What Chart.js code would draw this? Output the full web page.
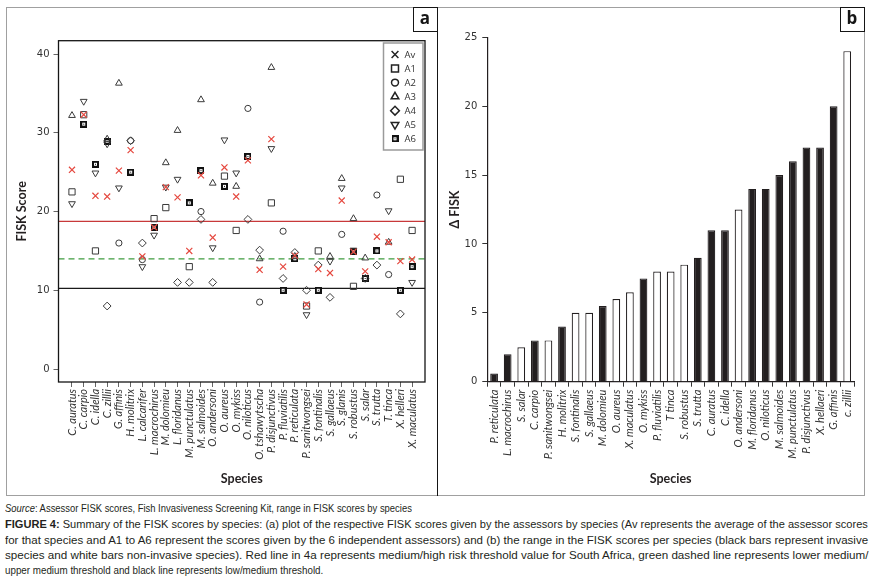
<!DOCTYPE html>
<html>
<head>
<meta charset="utf-8">
<script src="https://cdn.jsdelivr.net/npm/chart.js@4.4.1/dist/chart.umd.min.js"></script>
<style>
  body { margin: 0; background: #fff; }
  #page { position: relative; width: 873px; height: 582px; overflow: hidden; }
  #frame { position: absolute; left: 6px; top: 7px; width: 859px; height: 489px; border: 1.5px solid #a0a0a0; box-sizing: border-box; }
  #split { position: absolute; left: 436.5px; top: 7px; width: 1.6px; height: 489px; background: #151515; }
  .tag { position: absolute; top: 7px; width: 25px; height: 25px; border: 1.5px solid #151515; box-sizing: border-box; background: #fff;
         font: bold 17px 'Open Sans', sans-serif; line-height: 19px; text-align: center; color: #151515; }
  canvas { position: absolute; top: 0; }
  .cap { position: absolute; left: 5px; white-space: nowrap; transform-origin: 0 0; line-height: 13px;
         font-family: 'Liberation Sans Narrow', 'Liberation Sans', sans-serif; font-size: 11.5px; color: #231f20; }
</style>
</head>
<body>
<div id="page">
  <div id="frame"></div>
  <div id="split"></div>
  <canvas id="scoreChart" width="437" height="495" style="left:0"></canvas>
  <canvas id="rangeChart" width="435" height="495" style="left:438px"></canvas>
  <div class="tag" style="left:412.5px">a</div>
  <div class="tag" style="left:839.5px">b</div>

  <div class="cap fit" data-w="407" style="top:502px;font-size:10.5px"><i>Source</i>: Assessor FISK scores, Fish Invasiveness Screening Kit, range in FISK scores by species</div>
  <div class="cap fit" data-w="863" style="top:517.5px"><b>FIGURE 4:</b> Summary of the FISK scores by species: (a) plot of the respective FISK scores given by the assessors by species (Av represents the average of the assessor scores</div>
  <div class="cap fit" data-w="863" style="top:533.5px">for that species and A1 to A6 represent the scores given by the 6 independent assessors) and (b) the range in the FISK scores per species (black bars represent invasive</div>
  <div class="cap fit" data-w="863" style="top:549px">species and white bars non-invasive species). Red line in 4a represents medium/high risk threshold value for South Africa, green dashed line represents lower medium/</div>
  <div class="cap fit" data-w="318" style="top:564px">upper medium threshold and black line represents low/medium threshold.</div>
</div>

<script>
// ---- data (a): FISK score by assessor ----
const species = ['C. auratus', 'C. carpio', 'C. idella', 'C. zillii', 'G. affinis', 'H. molitrix', 'L. calcarifer',
  'L. macrochirus', 'M. dolomieu', 'L. floridanus', 'M. punctulatus', 'M. salmoides', 'O. andersoni', 'O. aureus',
  'O. mykiss', 'O. niloticus', 'O. tshawytscha', 'P. disjunctivus', 'P. fluviatilis', 'P. reticulata',
  'P. sanitwongsei', 'S. fontinalis', 'S. gallaeus', 'S. glanis', 'S. robustus', 'S. salar', 'S. trutta',
  'T. tinca', 'X. helleri', 'X. maculatus']

const avScores = [25.3, 32.3, 22.0, 21.9, 25.2, 27.8, 14.3, 18.0, 23.1, 21.8, 15.0, 24.6, 16.7, 25.6, 21.9,
  26.5, 12.6, 29.2, 13.0, 14.4, 8.2, 12.7, 12.2, 21.4, 14.9, 12.4, 16.8, 16.1, 13.7, 13.9]
const a1Scores = [22.5, 32.3, 15.0, null, null, null, null, 19.1, 20.5, null, 13.0, null, null, 24.5, 17.6,
  null, null, 21.1, null, null, 8.0, 15.0, null, null, 10.5, null, null, null, 24.1, 17.6]
const a2Scores = [null, null, null, null, 16.0, 29.0, 13.9, null, null, null, null, 20.0, null, null, null,
  33.1, 8.5, null, 17.5, null, null, null, null, 17.1, null, null, 22.1, 12.0, null, null]
const a3Scores = [32.2, null, null, 29.2, 36.3, null, null, null, 26.2, 30.3, null, 34.2, 23.6, null, 23.2,
  null, 14.0, 38.3, null, 14.3, null, null, 14.3, 24.2, 19.1, 14.1, null, 16.1, null, null]
const a4Scores = [null, null, null, 8.0, null, 29.0, 16.0, null, null, 11.0, 11.0, 19.0, 11.0, null, null,
  19.0, 15.1, null, 11.5, 14.8, 10.0, 13.2, 9.1, null, null, 11.5, 13.2, null, 7.0, null]
const a5Scores = [21.0, 34.0, 24.9, 28.6, 23.0, null, 13.0, 17.0, 23.1, 24.1, null, null, 15.4, 29.1, 24.9,
  null, null, 28.0, null, null, 6.9, null, 13.7, 23.0, 15.1, null, null, 20.1, null, 11.0]
const a6Scores = [null, 31.1, 26.0, 28.9, null, 25.0, null, 18.0, null, null, 21.1, 25.2, null, 23.2, null,
  27.0, null, null, 10.0, 14.0, null, 10.0, null, null, 14.9, 11.5, 15.0, null, 10.0, 13.0]

const highRisk = 18.75   // red
const midSplit = 14      // green dashed
const lowMedium = 10.25  // black

// ---- data (b): range in FISK scores per species ----
const rangeSpecies = ['P. reticulata', 'L. macrochirus', 'S. salar', 'C. carpio', 'P. sanitwongsei', 'H. molitrix',
  'S. fontinalis', 'S. gallaeus', 'M. dolomieu', 'O. aureus', 'X. maculatus', 'O. mykiss', 'P. fluviatilis',
  'T tinca', 'S. robustus', 'S. trutta', 'C. auratus', 'C. idella', 'O. andersoni', 'M. floridanus',
  'O. niloticus', 'M. salmoides', 'M. punctulatus', 'P. disjunctivus', 'X. hellaeri', 'G. affinis', 'c. zillii']
const rangeValues = [0.6, 2, 2.5, 3, 3, 4, 5, 5, 5.5, 6, 6.5, 7.5, 8, 8, 8.5, 9, 11, 11, 12.5, 14, 14, 15, 16, 17, 17, 20, 24]
const invasive = [1, 1, 0, 1, 0, 1, 0, 0, 1, 0, 0, 1, 0, 0, 0, 1, 1, 1, 0, 1, 1, 1, 1, 1, 1, 1, 0]

Chart.defaults.font.family = 'Lato, sans-serif'
Chart.defaults.color = '#333'
Chart.defaults.animation = false
Chart.defaults.plugins.legend.display = false
Chart.defaults.plugins.tooltip.enabled = false

const ink = '#231f20'
const markInk = '#3a3a3a'
const crossRed = '#e5483f'
const xMin = -1.15, xMax = 30.1

// A6 marker: black square, white ring, black core
function a6Icon(s) {
  const c = document.createElement('canvas')
  c.width = c.height = s
  const g = c.getContext('2d')
  g.fillStyle = '#111'; g.fillRect(0, 0, s, s)
  g.fillStyle = '#fff'; g.fillRect(2, 2, s - 4, s - 4)
  g.fillStyle = '#111'; g.fillRect(3, 3, s - 6, s - 6)
  return c
}

const markers = [
  { label: 'Av', values: avScores, pointStyle: 'crossRot', pointRadius: 4.3, pointBorderColor: crossRed, pointBorderWidth: 1.2, legendColor: '#222' },
  { label: 'A1', values: a1Scores, pointStyle: 'rect', pointRadius: 4.4 },
  { label: 'A2', values: a2Scores, pointStyle: 'circle', pointRadius: 3.1 },
  { label: 'A3', values: a3Scores, pointStyle: 'triangle', pointRadius: 3.9 },
  { label: 'A4', values: a4Scores, pointStyle: 'rectRot', pointRadius: 3.9 },
  { label: 'A5', values: a5Scores, pointStyle: 'triangle', pointRadius: 3.9, pointRotation: 180 },
  { label: 'A6', values: a6Scores, pointStyle: a6Icon(7), pointRadius: 4 },
]

const markerSets = markers.map(m => ({
  label: m.label,
  data: m.values.flatMap((v, i) => v === null ? [] : [{ x: i, y: v }]),
  showLine: false,
  pointStyle: m.pointStyle,
  pointRadius: m.pointRadius,
  pointRotation: m.pointRotation || 0,
  pointBackgroundColor: 'rgba(0,0,0,0)',
  pointBorderColor: m.pointBorderColor || markInk,
  pointBorderWidth: m.pointBorderWidth || 1,
}))

function levelLine(label, y, color, dash) {
  return { label, data: [{ x: xMin, y }, { x: xMax, y }], showLine: true, borderColor: color,
    borderWidth: 1.3, borderDash: dash, pointRadius: 0 }
}

const boxPlugin = {
  id: 'box',
  afterDraw(chart) {
    const { ctx, chartArea: a } = chart
    ctx.save()
    ctx.strokeStyle = '#151515'
    ctx.lineWidth = 1.3
    ctx.strokeRect(a.left, a.top, a.right - a.left, a.bottom - a.top)
    // legend box, top right inside the plot
    const lx = 383.5, ly = 43, lw = 39.5, lh = 107
    ctx.fillStyle = '#fff'
    ctx.fillRect(lx, ly, lw, lh)
    ctx.strokeStyle = '#9a9a9a'
    ctx.lineWidth = 1.5
    ctx.strokeRect(lx, ly, lw, lh)
    ctx.font = '9.5px "Open Sans", sans-serif'
    ctx.textBaseline = 'middle'
    markers.forEach((m, k) => {
      const y = ly + 11.5 + k * 14.05
      ctx.strokeStyle = m.legendColor || '#222'
      ctx.fillStyle = '#fff'
      Chart.helpers.drawPoint(ctx, { pointStyle: m.pointStyle, radius: m.pointRadius * 1.12,
        rotation: m.pointRotation || 0, borderWidth: 1 }, lx + 11.5, y)
      ctx.fillStyle = '#333'
      ctx.fillText(m.label, lx + 21, y + 0.5)
    })
    ctx.restore()
  }
}

new Chart(document.getElementById('scoreChart'), {
  type: 'scatter',
  data: {
    datasets: [
      ...markerSets,
      levelLine('high', highRisk, '#c8383a', []),
      levelLine('mid', midSplit, '#3f9c3f', [6, 4]),
      levelLine('low', lowMedium, '#1a1a1a', []),
    ]
  },
  options: {
    responsive: false,
    layout: { padding: { left: 0, right: 12, top: 40.7, bottom: 0 } },
    scales: {
      x: {
        type: 'linear', min: xMin, max: xMax,
        afterBuildTicks: s => { s.ticks = species.map((_, i) => ({ value: i })) },
        afterFit: s => { s.height = 113 },
        ticks: { autoSkip: false, minRotation: 90, maxRotation: 90, padding: 2, color: '#333',
          font: { size: 11, style: 'italic' }, callback: v => species[v] },
        grid: { drawOnChartArea: false, tickLength: 5, color: '#666' },
        border: { display: false },
        title: { display: true, text: 'Species', color: ink, font: { size: 12.5, weight: 'bold' }, padding: { top: 0, bottom: 8.5 } }
      },
      y: {
        min: -1.65, max: 41.7,
        afterFit: s => { s.width = 58.5 },
        ticks: { stepSize: 10, includeBounds: false, padding: 4, color: '#333', font: { family: 'DejaVu Sans', size: 10 } },
        grid: { drawOnChartArea: false, tickLength: 5, color: '#666' },
        border: { display: false },
        title: { display: true, text: 'FISK Score', color: ink, font: { size: 12.5, weight: 'bold' }, padding: { top: 14.5, bottom: 0 } }
      }
    }
  },
  plugins: [boxPlugin]
})

new Chart(document.getElementById('rangeChart'), {
  type: 'bar',
  data: {
    labels: rangeSpecies,
    datasets: [{
      data: rangeValues,
      backgroundColor: invasive.map(f => f ? ink : '#fff'),
      borderColor: ink,
      borderWidth: 1.2,
      barPercentage: 0.57,
      categoryPercentage: 1
    }]
  },
  options: {
    responsive: false,
    layout: { padding: { left: 0, right: 19, top: 37.4, bottom: 0 } },
    scales: {
      x: {
        afterFit: s => { s.height = 113.3 },
        ticks: { autoSkip: false, minRotation: 90, maxRotation: 90, padding: 3, color: '#333', font: { size: 11, style: 'italic' } },
        grid: { drawOnChartArea: false, tickLength: 5, color: '#333', offset: true },
        border: { display: true, color: ink, width: 1.2 },
        title: { display: true, text: 'Species', color: ink, font: { size: 12.5, weight: 'bold' }, padding: { top: 0, bottom: 8.5 } }
      },
      y: {
        min: 0, max: 25,
        afterFit: s => { s.width = 49.3 },
        ticks: { stepSize: 5, padding: 5, color: '#333', font: { family: 'DejaVu Sans', size: 10 } },
        grid: { drawOnChartArea: false, tickLength: 5, color: '#333' },
        border: { display: true, color: ink, width: 1.2 },
        title: { display: true, text: 'Δ FISK', color: ink, font: { size: 12.5, weight: 'bold' }, padding: { top: 9.5, bottom: 0 } }
      }
    }
  }
})

// caption: squeeze each line to the width it has in the figure
function fitCaption() {
  document.querySelectorAll('.fit').forEach(el => {
    el.style.transform = 'none'
    el.style.transform = 'scaleX(' + (Number(el.dataset.w) / el.scrollWidth) + ')'
  })
}
fitCaption()
document.fonts.ready.then(fitCaption)
</script>
</body>
</html>
